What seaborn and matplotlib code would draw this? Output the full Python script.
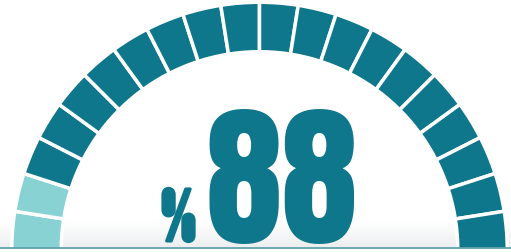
import numpy as np
import matplotlib
matplotlib.use("Agg")
import matplotlib.pyplot as plt
import matplotlib.patheffects as pe
import seaborn as sns
from matplotlib.patches import Wedge, Rectangle

# ---- data ----
value = 88                      # percent shown in the gauge
n_segments = 20                 # number of gauge blocks
value_label = "88"
unit_label = "%"

# ---- style ----
sns.set_theme(style="white")
dark, light = sns.color_palette(["#0e778b", "#88d2d3"])
plt.rcParams["font.family"] = ["Anton", "DejaVu Sans"]

W, H = 511, 253
fig = plt.figure(figsize=(W / 100, H / 100), dpi=100)
ax = fig.add_axes([0, 0, 1, 1])
ax.set_xlim(0, W)
ax.set_ylim(0, H)
ax.axis("off")

# bottom fade
grad = np.linspace(0, 1, 64).reshape(-1, 1)
ax.imshow(grad, extent=[0, W, 5, 30], origin="lower",
          cmap=sns.blend_palette(["#eceeef", "#ffffff"], as_cmap=True),
          aspect="auto", zorder=0)

# gauge
cx, cy = 259.5, 2.0
r_out, r_in = 246.0, 200.0
gap = 3.5
n_light = int(round(n_segments * (100 - value) / 100))
step = 180.0 / n_segments
for i in range(n_segments):
    t2 = 180.0 - i * step
    t1 = t2 - step
    color = light if i < n_light else dark
    ax.add_patch(Wedge((cx, cy), r_out + gap / 2, t1, t2, width=(r_out - r_in) + gap,
                       facecolor=color, edgecolor="white", linewidth=gap * 0.72, zorder=2))

# cover below baseline + baseline
ax.add_patch(Rectangle((0, 0), W, 4.5, facecolor="white", edgecolor="none", zorder=3))
ax.plot([0, W], [4.5, 4.5], color="#5fa3ad", linewidth=1.3, zorder=4)

# texts
ax.text(282, 10, value_label, fontsize=111, color=dark, ha="center", va="baseline", zorder=5)
ax.text(178.5, 11, unit_label, fontsize=51, family=["League Gothic", "Anton", "DejaVu Sans"],
        fontweight="bold", color=dark, ha="center", va="baseline", zorder=5,
        path_effects=[pe.withStroke(linewidth=2.2, foreground=dark)])

fig.savefig("out.png", dpi=100)
